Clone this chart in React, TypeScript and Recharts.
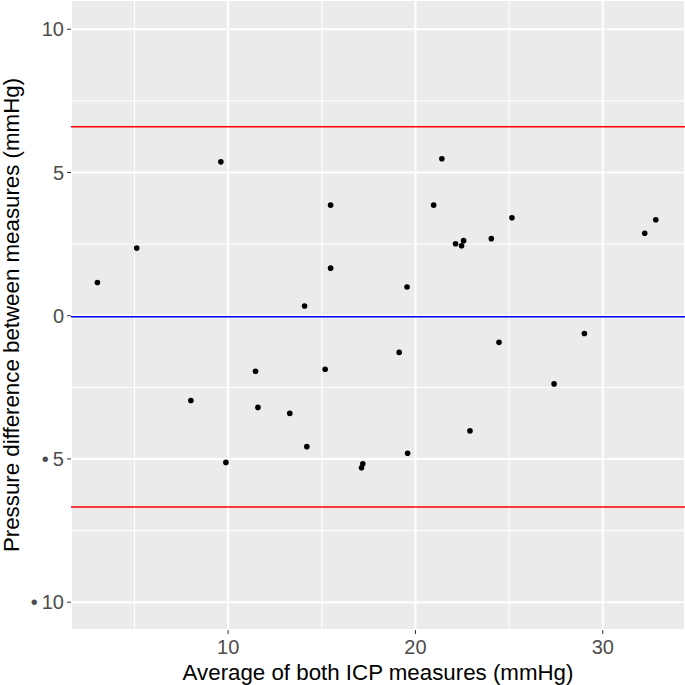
import {
  ScatterChart, Scatter, XAxis, YAxis, CartesianGrid, ReferenceLine
} from 'recharts'

// Bland-Altman: average of both ICP measures vs. difference
const avgICP = [
  3.02, 5.12, 9.61, 8.01, 9.88, 21.41, 15.47, 20.97, 22.14, 22.46, 22.57,
  15.47, 19.55, 14.08, 11.46, 15.18, 19.13, 11.59, 13.29, 14.2, 19.58,
  17.19, 17.12, 22.91, 24.05, 25.15, 32.24, 32.83, 24.46, 29.02, 27.4,
]
const diffICP = [
  1.16, 2.36, 5.37, -2.96, -5.12, 5.48, 3.86, 3.86, 2.51, 2.44, 2.62,
  1.66, 1.0, 0.34, -1.94, -1.87, -1.28, -3.2, -3.41, -4.57, -4.8,
  -5.17, -5.31, -4.02, 2.69, 3.42, 2.88, 3.35, -0.93, -0.62, -2.38,
]

const meanDiff = -0.04
const upperLoA = 6.6
const lowerLoA = -6.68

const xTicks = [10, 20, 30]
const yTicks = [-10, -5, 0, 5, 10]
const xMinor = [5, 15, 25]
const yMinor = [-7.5, -2.5, 2.5, 7.5]

const points = avgICP.map((a, i) => ({ avg: a, diff: diffICP[i] }))

const FONT = '"Liberation Sans", Arial, sans-serif'

// the original figure shows the minus sign as a bullet
function yTickFmt(v: number) {
  return v < 0 ? `•\u2009${-v}` : `${v}`
}

export default function App() {
  return (
    <div style={{ position: 'absolute', left: 0, top: 0, width: 685, height: 685, background: '#fff' }}>
      <ScatterChart width={685} height={685} margin={{ top: 0, right: 0, bottom: 0, left: 0 }}
        style={{ fontFamily: FONT }}>
        <CartesianGrid fill="#EBEBEB" stroke="#FFFFFF" strokeWidth={2} />
        {xMinor.map((v) => (
          <ReferenceLine key={'xm' + v} x={v} stroke="#FFFFFF" strokeWidth={1} />
        ))}
        {yMinor.map((v) => (
          <ReferenceLine key={'ym' + v} y={v} stroke="#FFFFFF" strokeWidth={1} />
        ))}
        <XAxis
          type="number"
          dataKey="avg"
          domain={[1.61, 34.39]}
          ticks={xTicks}
          allowDataOverflow
          height={55}
          tickSize={4}
          tickMargin={6}
          tick={{ fontSize: 20, fill: '#4D4D4D', fontFamily: FONT }}
          tickLine={{ stroke: '#333333' }}
          axisLine={false}
          label={{
            content: (p: any) => {
              const vb = p.viewBox
              return (
                <text x={vb.x + vb.width / 2} y={680} textAnchor="middle"
                  fontSize={22.3} fill="#000" fontFamily={FONT}>
                  Average of both ICP measures (mmHg)
                </text>
              )
            },
          }}
        />
        <YAxis
          type="number"
          dataKey="diff"
          domain={[-10.97, 11.02]}
          ticks={yTicks}
          allowDataOverflow
          width={71}
          tickSize={4}
          tickMargin={3}
          tickFormatter={yTickFmt}
          tick={{ fontSize: 20, fill: '#4D4D4D', fontFamily: FONT }}
          tickLine={{ stroke: '#333333' }}
          axisLine={false}
          label={{
            content: (p: any) => {
              const vb = p.viewBox
              const cy = vb.y + vb.height / 2
              return (
                <text x={18.5} y={cy} textAnchor="middle" transform={`rotate(-90, 18.5, ${cy})`}
                  fontSize={22.3} fill="#000" fontFamily={FONT}>
                  Pressure difference between measures (mmHg)
                </text>
              )
            },
          }}
        />
        <ReferenceLine y={upperLoA} stroke="#FF0000" strokeWidth={1.5} />
        <ReferenceLine y={lowerLoA} stroke="#FF0000" strokeWidth={1.5} />
        <ReferenceLine y={meanDiff} stroke="#0000FF" strokeWidth={1.5} />
        <Scatter
          data={points}
          fill="#000000"
          isAnimationActive={false}
          shape={(p: any) => <circle cx={p.cx} cy={p.cy} r={2.8} fill="#000" />}
        />
      </ScatterChart>
    </div>
  )
}
